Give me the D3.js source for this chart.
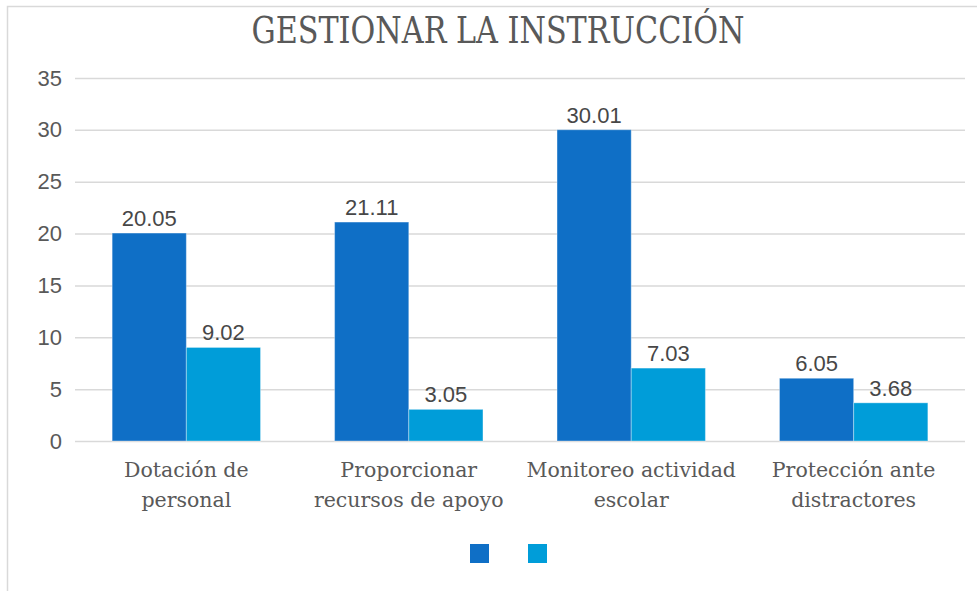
<!DOCTYPE html>
<html>
<head>
<meta charset="utf-8">
<script src="https://cdn.jsdelivr.net/npm/d3@7"></script>
<style>
  body { margin: 0; background: #fff; }
</style>
</head>
<body>
<div id="chart"></div>
<script>
const categories = [
    ["Dotación de", "personal"],
    ["Proporcionar", "recursos de apoyo"],
    ["Monitoreo actividad", "escolar"],
    ["Protección ante", "distractores"]
];
const series1 = [20.05, 21.11, 30.01, 6.05];
const series2 = [9.02, 3.05, 7.03, 3.68];
const yTicks = [0, 5, 10, 15, 20, 25, 30, 35];
const colors = ["#0F6FC6", "#009DD9"];

const width = 977;
const height = 591;
const margins = { top: 78, right: 12, bottom: 150, left: 75 };

const svg = d3.select("#chart")
    .append("svg")
    .attr("width", width)
    .attr("height", height);

// chart frame (only left and top edges visible)
svg.append("path")
    .attr("d", `M7.5,${height} V6.5 H${width}`)
    .attr("fill", "none")
    .attr("stroke", "#d9d9d9")
    .attr("stroke-width", 1.5);

svg.append("text")
    .attr("x", 498)
    .attr("y", 43)
    .attr("text-anchor", "middle")
    .attr("font-family", "'DejaVu Serif Condensed', 'Liberation Serif', serif")
    .attr("font-size", 37)
    .attr("fill", "#595959")
    .attr("textLength", 493)
    .attr("lengthAdjust", "spacingAndGlyphs")
    .text("GESTIONAR LA INSTRUCCIÓN");

const x = d3.scaleBand()
    .domain(d3.range(categories.length))
    .range([margins.left, width - margins.right])
    .paddingInner(0.333)
    .paddingOuter(0.167);

const xs = d3.scaleBand()
    .domain([0, 1])
    .range([0, x.bandwidth()]);

const y = d3.scaleLinear()
    .domain([0, 35])
    .range([height - margins.bottom, margins.top]);

// grid + y labels
const gy = svg.append("g")
    .attr("transform", `translate(${margins.left},0)`)
    .call(d3.axisLeft(y).tickValues(yTicks).tickSize(-(width - margins.left - margins.right)).tickPadding(13))
    .call(g => g.select(".domain").remove());
gy.selectAll(".tick line")
    .attr("stroke", "#d9d9d9")
    .attr("stroke-width", 1.5);
gy.selectAll(".tick text")
    .attr("font-family", "'Liberation Sans', Arial, sans-serif")
    .attr("font-size", 22)
    .attr("fill", "#595959");

const data = categories.map((c, i) => [series1[i], series2[i]]);

const groups = svg.selectAll(".grp")
    .data(data)
    .join("g")
    .attr("class", "grp")
    .attr("transform", (_, i) => `translate(${x(i)},0)`);

groups.selectAll("rect")
    .data(d => d)
    .join("rect")
    .attr("x", (_, j) => xs(j))
    .attr("y", d => y(d))
    .attr("width", xs.bandwidth())
    .attr("height", d => y(0) - y(d))
    .attr("fill", (_, j) => colors[j])
    .attr("stroke", "rgba(255,255,255,0.35)")
    .attr("stroke-width", 1);

groups.selectAll(".lbl")
    .data(d => d)
    .join("text")
    .attr("class", "lbl")
    .attr("x", (_, j) => xs(j) + xs.bandwidth() / 2)
    .attr("y", d => y(d) - 7)
    .attr("text-anchor", "middle")
    .attr("font-family", "'Liberation Sans', Arial, sans-serif")
    .attr("font-size", 22)
    .attr("fill", "#474747")
    .text(d => d.toFixed(2));

// category labels
svg.selectAll(".cat")
    .data(categories)
    .join("text")
    .attr("class", "cat")
    .attr("text-anchor", "middle")
    .attr("font-family", "'DejaVu Serif', serif")
    .attr("font-size", 20.5)
    .attr("fill", "#595959")
    .selectAll("tspan")
    .data((d, i) => d.map(t => ({ t, i })))
    .join("tspan")
    .attr("x", d => x(d.i) + x.bandwidth() / 2)
    .attr("y", (_, k) => 477 + k * 30)
    .text(d => d.t);

// legend (series without names)
svg.selectAll(".leg")
    .data(colors)
    .join("rect")
    .attr("class", "leg")
    .attr("x", (_, i) => 470 + i * 58)
    .attr("y", 544)
    .attr("width", 19)
    .attr("height", 19)
    .attr("fill", d => d);
</script>
</body>
</html>
